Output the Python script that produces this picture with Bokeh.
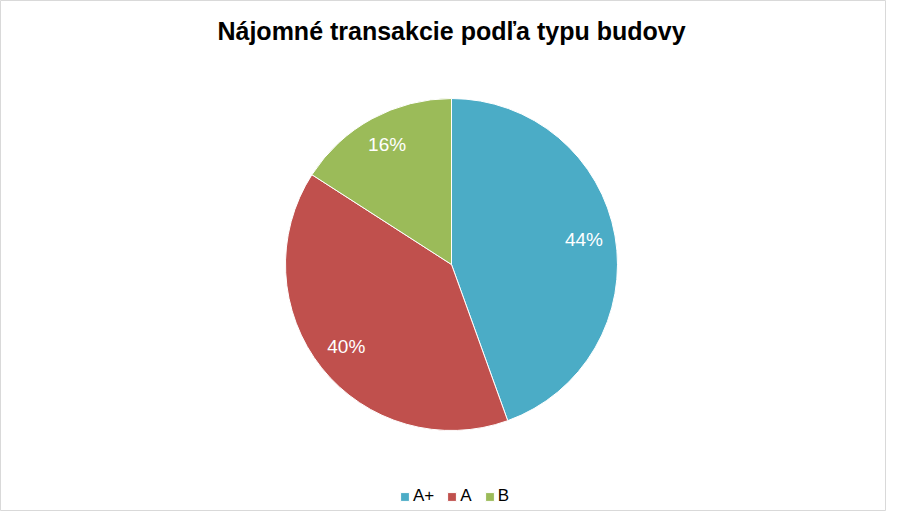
import math
from bokeh.plotting import figure
from bokeh.models import ColumnDataSource, Legend, LegendItem
from bokeh.core.properties import value
from bokeh.embed import file_html
from bokeh.resources import INLINE

title_text = "Nájomné transakcie podľa typu budovy"
categories = ["A+", "A", "B"]
shares = [44.5, 39.6, 15.9]
colors = ["#4BACC6", "#C0504D", "#9BBB59"]

W, H = 886, 511
p = figure(width=W, height=H, output_backend="svg", toolbar_location=None,
           x_range=(0, W), y_range=(0, H), min_border=0)
p.axis.visible = False
p.grid.visible = False
p.outline_line_color = "#D9D9D9"
p.outline_line_width = 1
p.background_fill_color = "white"
p.border_fill_color = "white"

cx, cy, r = 451, 247, 166
total = sum(shares)
starts, ends, mids = [], [], []
a = math.pi / 2
for s in shares:
    span = 2 * math.pi * s / total
    starts.append(a)
    ends.append(a - span)
    mids.append(a - span / 2)
    a -= span

src = ColumnDataSource(dict(
    lx=[cx + 0.81 * r * math.cos(m) for m in mids],
    ly=[cy + 0.81 * r * math.sin(m) + 2 for m in mids],
    lab=[f"{round(s)}%" for s in shares],
))

wedges = []
for i in range(len(categories)):
    w = p.wedge(x=cx, y=cy, radius=r, start_angle=starts[i], end_angle=ends[i],
                direction="clock", fill_color=colors[i], line_color="white", line_width=1)
    wedges.append(w)

p.text(x="lx", y="ly", text="lab", source=src, text_color="white",
       text_font=value("Liberation Sans"), text_font_size="19px",
       text_align="center", text_baseline="middle")

p.text(x=[cx], y=[481], text=[title_text], text_color="black",
       text_font=value("Liberation Sans"), text_font_size="25px", text_font_style="bold",
       text_align="center", text_baseline="middle")

legend = Legend(items=[LegendItem(label=c, renderers=[w]) for c, w in zip(categories, wedges)],
                orientation="horizontal", location=(399, 5),
                label_text_font="Liberation Sans", label_text_font_size="17px",
                label_text_color="black", glyph_width=11, glyph_height=11,
                label_standoff=3, spacing=12, padding=0, margin=0, label_width=0,
                border_line_color=None, background_fill_alpha=0, label_height=17)
p.add_layout(legend, "center")

open("out.html", "w").write(file_html(p, INLINE))
